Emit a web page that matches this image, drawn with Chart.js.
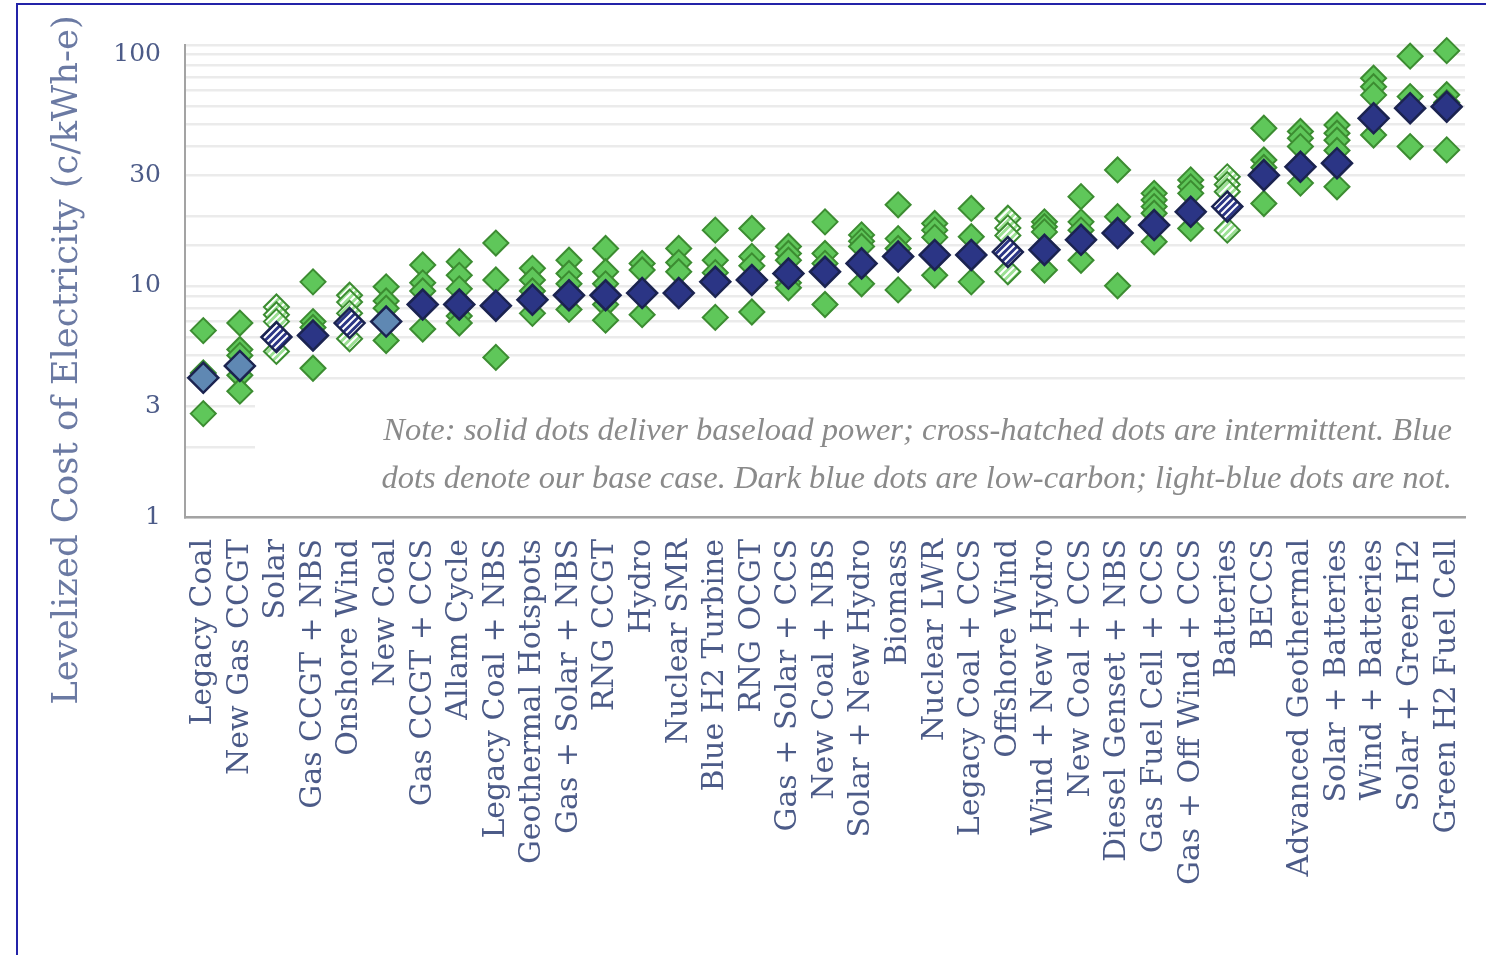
<!DOCTYPE html>
<html lang="en">
<head>
<meta charset="UTF-8">
<script src="https://cdn.jsdelivr.net/npm/chart.js"></script>
<title>Levelized cost of electricity</title>
<style>
  html, body { margin: 0; padding: 0; background: #fff; }
</style>
</head>
<body>
<canvas id="lcoe" width="1486" height="955"></canvas>
<script>
// technologies, cheapest base case first
const categories = [
  'Legacy Coal', 'New Gas CCGT', 'Solar', 'Gas CCGT + NBS', 'Onshore Wind',
  'New Coal', 'Gas CCGT + CCS', 'Allam Cycle', 'Legacy Coal + NBS', 'Geothermal Hotspots',
  'Gas + Solar + NBS', 'RNG CCGT', 'Hydro', 'Nuclear SMR', 'Blue H2 Turbine',
  'RNG OCGT', 'Gas + Solar + CCS', 'New Coal + NBS', 'Solar + New Hydro', 'Biomass',
  'Nuclear LWR', 'Legacy Coal + CCS', 'Offshore Wind', 'Wind + New Hydro', 'New Coal + CCS',
  'Diesel Genset + NBS', 'Gas Fuel Cell + CCS', 'Gas + Off Wind + CCS', 'Batteries', 'BECCS',
  'Advanced Geothermal', 'Solar + Batteries', 'Wind + Batteries', 'Solar + Green H2', 'Green H2 Fuel Cell'
];

// base case, c/kWh-e
const baseCase = [
  4.0, 4.5, 6.0, 6.1, 6.9,
  7.0, 8.3, 8.3, 8.2, 8.7,
  9.1, 9.1, 9.3, 9.3, 10.4,
  10.6, 11.3, 11.5, 12.5, 13.4,
  13.6, 13.6, 14.0, 14.3, 15.8,
  16.9, 18.3, 20.9, 22.0, 30.1,
  32.7, 33.9, 53.0, 58.6, 59.5
];

// sensitivity cases, c/kWh-e
const sensitivities = [
  [6.4, 4.2, 2.8],
  [6.9, 5.3, 5.0, 4.1, 3.5],
  [8.1, 7.5, 7.0, 5.2],
  [10.4, 7.0, 6.6, 4.4],
  [9.1, 8.5, 7.6, 5.9],
  [9.9, 8.6, 8.0, 5.8],
  [12.3, 10.3, 9.5, 6.5],
  [12.7, 11.1, 9.7, 7.4, 6.9],
  [15.3, 10.6, 4.9],
  [11.9, 10.6, 9.5, 7.6],
  [12.9, 11.3, 10.2, 7.9],
  [14.5, 11.5, 10.2, 8.3, 7.1],
  [12.5, 11.7, 7.5],
  [14.5, 12.6, 11.5],
  [17.4, 12.9, 11.4, 7.3],
  [17.7, 13.4, 12.2, 7.7],
  [14.8, 13.8, 12.9, 10.3, 9.8],
  [18.9, 13.8, 12.5, 8.3],
  [16.6, 15.6, 14.8, 10.2],
  [22.4, 16.0, 14.5, 9.6],
  [18.6, 17.4, 16.2, 11.1],
  [21.6, 16.3, 10.4],
  [19.6, 17.8, 16.5, 11.5],
  [18.9, 18.0, 17.1, 11.7],
  [24.3, 18.9, 17.4, 12.9],
  [31.7, 19.9, 10.0],
  [25.1, 23.5, 22.0, 20.6, 15.5],
  [28.7, 26.8, 25.1, 17.7],
  [29.6, 27.4, 25.5, 17.4],
  [48.0, 35.0, 32.5, 22.7],
  [46.5, 43.5, 40.0, 27.8],
  [49.6, 45.7, 42.6, 38.5, 26.8],
  [79.0, 72.6, 66.8, 44.9],
  [98.4, 65.8, 40.0],
  [104, 67.0, 62.0, 38.7]
];

// fossil = light blue, low = dark blue (low-carbon), intermittent = cross-hatched
const sourceType = [
  'fossil', 'fossil', 'intermittent', 'low', 'intermittent',
  'fossil', 'low', 'low', 'low', 'low',
  'low', 'low', 'low', 'low', 'low',
  'low', 'low', 'low', 'low', 'low',
  'low', 'low', 'intermittent', 'low', 'low',
  'low', 'low', 'low', 'intermittent', 'low',
  'low', 'low', 'low', 'low', 'low'
];

const yTickLabels = [1, 3, 10, 30, 100];
const yTitle = 'Levelized Cost of Electricity (c/kWh-e)';
const noteLines = [
  'Note: solid dots deliver baseload power; cross-hatched dots are intermittent. Blue',
  'dots denote our base case. Dark blue dots are low-carbon; light-blue dots are not.'
];

const canvas = document.getElementById('lcoe');
const ctx2d = canvas.getContext('2d');

function hatch(bg, fg) {
  const c = document.createElement('canvas');
  c.width = 7; c.height = 7;
  const g = c.getContext('2d');
  g.fillStyle = bg;
  g.fillRect(0, 0, 7, 7);
  g.strokeStyle = fg;
  g.lineWidth = 2;
  g.beginPath();
  g.moveTo(0, 7); g.lineTo(7, 0);
  g.moveTo(-2, 2); g.lineTo(2, -2);
  g.moveTo(5, 9); g.lineTo(9, 5);
  g.stroke();
  return ctx2d.createPattern(c, 'repeat');
}

const NAVY = '#2b3585';
const LIGHT_BLUE = '#5f88b3';
const GREEN = '#5fc75a';
const navyHatch = hatch(NAVY, '#ffffff');
const greenHatch = hatch('#9be093', '#ffffff');

const typeOf = (ctx) => sourceType[categories.indexOf(ctx.raw.x)];

const basePoints = categories.map((c, i) => ({ x: c, y: baseCase[i] }));
const sensPoints = [];
categories.forEach((c, i) => {
  sensitivities[i].forEach(v => sensPoints.push({ x: c, y: v }));
});

// white page + blue frame on top and left
const framePlugin = {
  id: 'frame',
  beforeDraw(chart) {
    const c = chart.ctx;
    c.save();
    c.fillStyle = '#ffffff';
    c.fillRect(0, 0, chart.width, chart.height);
    c.strokeStyle = '#2323a8';
    c.lineWidth = 2;
    c.beginPath();
    c.moveTo(17, chart.height);
    c.lineTo(17, 4);
    c.lineTo(chart.width, 4);
    c.stroke();
    c.restore();
  }
};

// note box sits over the lower gridlines, under the markers
const notePlugin = {
  id: 'note',
  beforeDatasetsDraw(chart) {
    const c = chart.ctx;
    const area = chart.chartArea;
    c.save();
    c.fillStyle = '#ffffff';
    c.fillRect(255, 389, area.right - 255 + 4, 124);
    c.font = 'italic 30px "Liberation Serif"';
    const w = c.measureText(noteLines[0]).width;
    const size = 30 * 1069 / w;
    c.font = 'italic ' + size.toFixed(2) + 'px "Liberation Serif"';
    c.fillStyle = '#8a8a8a';
    c.textAlign = 'right';
    c.textBaseline = 'middle';
    c.fillText(noteLines[0], 1452, 431);
    c.fillText(noteLines[1], 1452, 479);
    c.restore();
  }
};

const yTitlePlugin = {
  id: 'yTitle',
  afterDraw(chart) {
    const c = chart.ctx;
    c.save();
    c.font = '28px "DejaVu Serif"';
    const w = c.measureText(yTitle).width;
    const size = 28 * 690 / w;
    c.font = size.toFixed(2) + 'px "DejaVu Serif"';
    c.fillStyle = '#6b7aa3';
    c.translate(68, 360);
    c.rotate(-Math.PI / 2);
    c.textAlign = 'center';
    c.textBaseline = 'middle';
    c.fillText(yTitle, 0, 0);
    c.restore();
  }
};

new Chart(canvas, {
  type: 'scatter',
  data: {
    labels: categories,
    datasets: [
      {
        label: 'Base case',
        data: basePoints,
        pointStyle: 'rectRot',
        pointRadius: 15,
        pointHoverRadius: 15,
        pointBorderWidth: 2.5,
        pointBorderColor: '#1b2350',
        pointBackgroundColor: (ctx) => {
          const t = typeOf(ctx);
          if (t === 'fossil') return LIGHT_BLUE;
          if (t === 'intermittent') return navyHatch;
          return NAVY;
        },
        clip: false
      },
      {
        label: 'Sensitivities',
        data: sensPoints,
        pointStyle: 'rectRot',
        pointRadius: 12.5,
        pointHoverRadius: 12.5,
        pointBorderWidth: 2,
        pointBorderColor: '#3c8c31',
        pointBackgroundColor: (ctx) => typeOf(ctx) === 'intermittent' ? greenHatch : GREEN,
        clip: false
      }
    ]
  },
  options: {
    responsive: false,
    animation: false,
    layout: { padding: { top: 45, right: 21, left: 0, bottom: 0 } },
    plugins: {
      legend: { display: false },
      tooltip: { enabled: false }
    },
    scales: {
      x: {
        type: 'category',
        labels: categories,
        offset: true,
        grid: { display: false, drawTicks: false },
        border: { display: true, color: '#a3a3a3', width: 2.5 },
        ticks: {
          autoSkip: false,
          minRotation: 90,
          maxRotation: 90,
          padding: 22,
          color: '#4c5b88',
          font: { family: '"DejaVu Serif"', size: 30 }
        },
        afterFit(scale) {
          scale.height = 955 - 45 - 472;
          scale.paddingLeft = 0;
          scale.paddingRight = 0;
        }
      },
      y: {
        type: 'logarithmic',
        min: 1,
        max: 110,
        grid: { color: '#ebebeb', lineWidth: 2.5, drawTicks: false },
        border: { display: true, color: '#a3a3a3', width: 2 },
        ticks: {
          autoSkip: false,
          padding: 24,
          color: '#4c5b88',
          font: { family: '"DejaVu Serif"', size: 25 },
          callback: (v) => yTickLabels.includes(v) ? String(v) : ''
        },
        afterFit(scale) { scale.width = 185; }
      }
    }
  },
  plugins: [framePlugin, notePlugin, yTitlePlugin]
});
</script>
</body>
</html>
